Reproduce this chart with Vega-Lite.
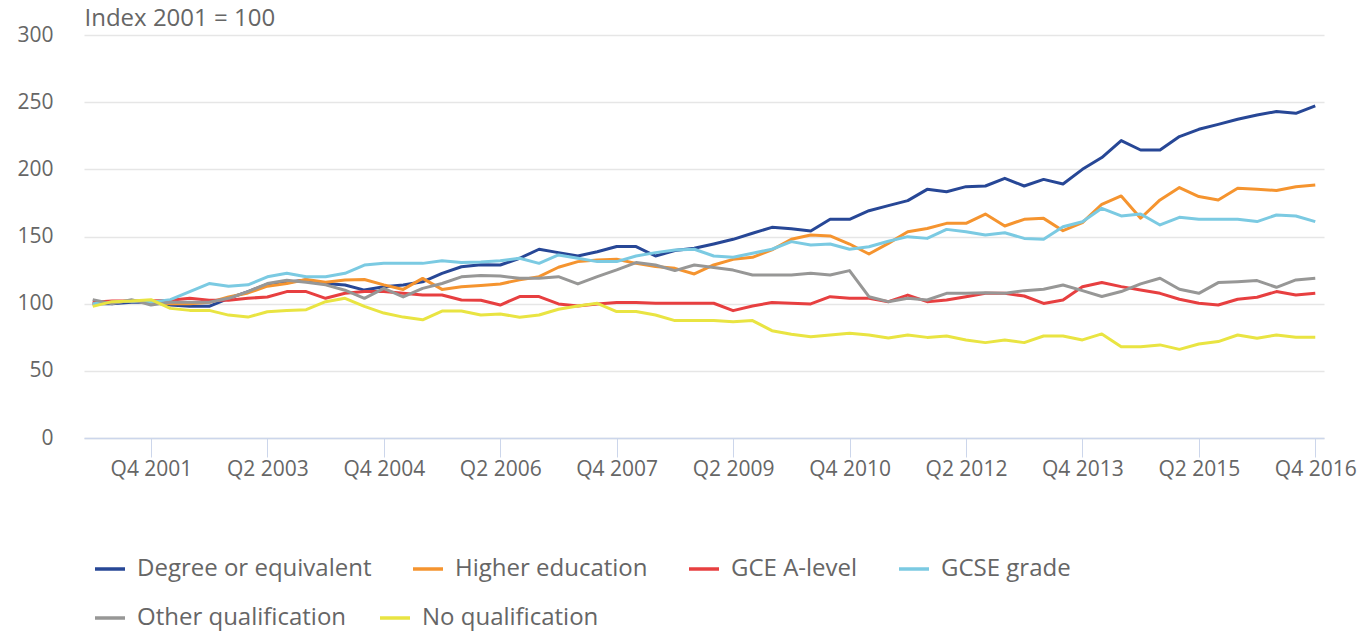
{
  "$schema": "https://vega.github.io/schema/vega-lite/v6.json",
  "width": 1240,
  "height": 403,
  "autosize": {"type": "none"},
  "padding": {"left": 84, "top": 35, "right": 40, "bottom": 193},
  "background": "white",
  "config": {"font": "Open Sans", "view": {"stroke": null}},
  "data": {"values": [
    {"q":"Q1 2001","Degree or equivalent":100,"Higher education":100,"GCE A-level":101,"GCSE grade":100,"Other qualification":103,"No qualification":98},
    {"q":"Q2 2001","Degree or equivalent":100,"Higher education":101,"GCE A-level":102,"GCSE grade":101,"Other qualification":100,"No qualification":101.5},
    {"q":"Q3 2001","Degree or equivalent":101,"Higher education":102,"GCE A-level":102,"GCSE grade":102,"Other qualification":103,"No qualification":102},
    {"q":"Q4 2001","Degree or equivalent":101,"Higher education":101,"GCE A-level":102,"GCSE grade":101,"Other qualification":99,"No qualification":103},
    {"q":"Q1 2002","Degree or equivalent":99,"Higher education":100,"GCE A-level":102.5,"GCSE grade":103,"Other qualification":101,"No qualification":96.5},
    {"q":"Q2 2002","Degree or equivalent":98,"Higher education":100,"GCE A-level":104,"GCSE grade":109,"Other qualification":101,"No qualification":95},
    {"q":"Q3 2002","Degree or equivalent":98,"Higher education":101,"GCE A-level":102.5,"GCSE grade":115,"Other qualification":101,"No qualification":95},
    {"q":"Q4 2002","Degree or equivalent":104,"Higher education":105,"GCE A-level":102.5,"GCSE grade":113,"Other qualification":104,"No qualification":91.5},
    {"q":"Q1 2003","Degree or equivalent":109,"Higher education":108,"GCE A-level":104,"GCSE grade":114,"Other qualification":109,"No qualification":90},
    {"q":"Q2 2003","Degree or equivalent":114.5,"Higher education":113,"GCE A-level":105,"GCSE grade":120,"Other qualification":115,"No qualification":94},
    {"q":"Q3 2003","Degree or equivalent":116,"Higher education":115,"GCE A-level":109,"GCSE grade":122.6,"Other qualification":117.5,"No qualification":95},
    {"q":"Q4 2003","Degree or equivalent":117.6,"Higher education":118,"GCE A-level":109,"GCSE grade":120,"Other qualification":116,"No qualification":95.5},
    {"q":"Q1 2004","Degree or equivalent":115,"Higher education":116,"GCE A-level":104,"GCSE grade":120,"Other qualification":114,"No qualification":101.5},
    {"q":"Q2 2004","Degree or equivalent":113.9,"Higher education":117.6,"GCE A-level":107.7,"GCSE grade":122.6,"Other qualification":110,"No qualification":104},
    {"q":"Q3 2004","Degree or equivalent":110.1,"Higher education":118,"GCE A-level":109,"GCSE grade":128.7,"Other qualification":104,"No qualification":98},
    {"q":"Q4 2004","Degree or equivalent":112.6,"Higher education":114,"GCE A-level":109,"GCSE grade":130,"Other qualification":111.4,"No qualification":93},
    {"q":"Q1 2005","Degree or equivalent":113.9,"Higher education":110.6,"GCE A-level":107.7,"GCSE grade":130,"Other qualification":105,"No qualification":90},
    {"q":"Q2 2005","Degree or equivalent":116.3,"Higher education":118.8,"GCE A-level":106.5,"GCSE grade":130,"Other qualification":111.4,"No qualification":88},
    {"q":"Q3 2005","Degree or equivalent":122.5,"Higher education":110.6,"GCE A-level":106.5,"GCSE grade":132,"Other qualification":115,"No qualification":94.5},
    {"q":"Q4 2005","Degree or equivalent":127.5,"Higher education":112.6,"GCE A-level":102.7,"GCSE grade":130.7,"Other qualification":120,"No qualification":94.5},
    {"q":"Q1 2006","Degree or equivalent":129,"Higher education":113.5,"GCE A-level":102.5,"GCSE grade":131,"Other qualification":121,"No qualification":91.5},
    {"q":"Q2 2006","Degree or equivalent":128.8,"Higher education":114.7,"GCE A-level":99,"GCSE grade":132,"Other qualification":120.6,"No qualification":92.3},
    {"q":"Q3 2006","Degree or equivalent":133.8,"Higher education":117.7,"GCE A-level":105.3,"GCSE grade":133.8,"Other qualification":118.9,"No qualification":89.9},
    {"q":"Q4 2006","Degree or equivalent":140.5,"Higher education":120.1,"GCE A-level":105.3,"GCSE grade":130,"Other qualification":118.9,"No qualification":91.6},
    {"q":"Q1 2007","Degree or equivalent":138,"Higher education":127.1,"GCE A-level":99.8,"GCSE grade":136.3,"Other qualification":120.1,"No qualification":95.8},
    {"q":"Q2 2007","Degree or equivalent":135.5,"Higher education":131.3,"GCE A-level":98.3,"GCSE grade":133.8,"Other qualification":114.7,"No qualification":98.3},
    {"q":"Q3 2007","Degree or equivalent":138.7,"Higher education":132.5,"GCE A-level":99.8,"GCSE grade":131.3,"Other qualification":120.1,"No qualification":100.3},
    {"q":"Q4 2007","Degree or equivalent":142.5,"Higher education":133,"GCE A-level":100.8,"GCSE grade":131.3,"Other qualification":125.1,"No qualification":94.1},
    {"q":"Q1 2008","Degree or equivalent":142.5,"Higher education":130,"GCE A-level":100.8,"GCSE grade":135.5,"Other qualification":130.6,"No qualification":94.1},
    {"q":"Q2 2008","Degree or equivalent":135.5,"Higher education":127.6,"GCE A-level":100.3,"GCSE grade":138,"Other qualification":128.8,"No qualification":91.6},
    {"q":"Q3 2008","Degree or equivalent":139.5,"Higher education":126.3,"GCE A-level":100.3,"GCSE grade":140,"Other qualification":124.6,"No qualification":87.4},
    {"q":"Q4 2008","Degree or equivalent":141.2,"Higher education":122.1,"GCE A-level":100.3,"GCSE grade":140.5,"Other qualification":128.8,"No qualification":87.4},
    {"q":"Q1 2009","Degree or equivalent":144.4,"Higher education":128.8,"GCE A-level":100.3,"GCSE grade":135.5,"Other qualification":127,"No qualification":87.4},
    {"q":"Q2 2009","Degree or equivalent":147.9,"Higher education":133,"GCE A-level":94.8,"GCSE grade":134.5,"Other qualification":125,"No qualification":86.6},
    {"q":"Q3 2009","Degree or equivalent":152.4,"Higher education":134.5,"GCE A-level":98.3,"GCSE grade":137.5,"Other qualification":121.3,"No qualification":87.4},
    {"q":"Q4 2009","Degree or equivalent":156.8,"Higher education":140,"GCE A-level":100.8,"GCSE grade":140.5,"Other qualification":121.3,"No qualification":79.9},
    {"q":"Q1 2010","Degree or equivalent":155.8,"Higher education":147.9,"GCE A-level":100.3,"GCSE grade":146.2,"Other qualification":121.3,"No qualification":77.2},
    {"q":"Q2 2010","Degree or equivalent":154.1,"Higher education":151.1,"GCE A-level":99.8,"GCSE grade":143.7,"Other qualification":122.6,"No qualification":75.4},
    {"q":"Q3 2010","Degree or equivalent":162.8,"Higher education":150.4,"GCE A-level":105.2,"GCSE grade":144.4,"Other qualification":121.3,"No qualification":76.7},
    {"q":"Q4 2010","Degree or equivalent":162.8,"Higher education":144.4,"GCE A-level":104,"GCSE grade":140.5,"Other qualification":124.6,"No qualification":77.9},
    {"q":"Q1 2011","Degree or equivalent":169.2,"Higher education":137,"GCE A-level":104,"GCSE grade":142.4,"Other qualification":105.2,"No qualification":76.7},
    {"q":"Q2 2011","Degree or equivalent":173,"Higher education":144.9,"GCE A-level":101.5,"GCSE grade":146.5,"Other qualification":101.5,"No qualification":74.5},
    {"q":"Q3 2011","Degree or equivalent":176.7,"Higher education":153.6,"GCE A-level":106.4,"GCSE grade":149.9,"Other qualification":104,"No qualification":76.7},
    {"q":"Q4 2011","Degree or equivalent":185.1,"Higher education":156,"GCE A-level":101.5,"GCSE grade":148.6,"Other qualification":102.7,"No qualification":74.9},
    {"q":"Q1 2012","Degree or equivalent":183.3,"Higher education":159.8,"GCE A-level":102.7,"GCSE grade":155.3,"Other qualification":107.7,"No qualification":75.9},
    {"q":"Q2 2012","Degree or equivalent":187.1,"Higher education":159.8,"GCE A-level":105.2,"GCSE grade":153.6,"Other qualification":107.7,"No qualification":73},
    {"q":"Q3 2012","Degree or equivalent":187.6,"Higher education":166.7,"GCE A-level":107.7,"GCSE grade":151.1,"Other qualification":108.2,"No qualification":71},
    {"q":"Q4 2012","Degree or equivalent":193.3,"Higher education":157.8,"GCE A-level":107.7,"GCSE grade":152.8,"Other qualification":107.7,"No qualification":73},
    {"q":"Q1 2013","Degree or equivalent":187.6,"Higher education":162.8,"GCE A-level":105.7,"GCSE grade":148.6,"Other qualification":109.7,"No qualification":71},
    {"q":"Q2 2013","Degree or equivalent":192.5,"Higher education":163.5,"GCE A-level":100.2,"GCSE grade":147.9,"Other qualification":110.7,"No qualification":75.9},
    {"q":"Q3 2013","Degree or equivalent":189.1,"Higher education":154.3,"GCE A-level":102.7,"GCSE grade":157.3,"Other qualification":113.9,"No qualification":75.9},
    {"q":"Q4 2013","Degree or equivalent":200,"Higher education":160.3,"GCE A-level":112.6,"GCSE grade":161,"Other qualification":109.7,"No qualification":73},
    {"q":"Q1 2014","Degree or equivalent":208.8,"Higher education":174,"GCE A-level":115.7,"GCSE grade":171,"Other qualification":105.3,"No qualification":77.5},
    {"q":"Q2 2014","Degree or equivalent":221.4,"Higher education":180.2,"GCE A-level":112.7,"GCSE grade":165.3,"Other qualification":109,"No qualification":68},
    {"q":"Q3 2014","Degree or equivalent":214.4,"Higher education":163.6,"GCE A-level":110.2,"GCSE grade":166.8,"Other qualification":114.7,"No qualification":68},
    {"q":"Q4 2014","Degree or equivalent":214.4,"Higher education":177.2,"GCE A-level":107.7,"GCSE grade":158.6,"Other qualification":118.9,"No qualification":69.3},
    {"q":"Q1 2015","Degree or equivalent":224.4,"Higher education":186.4,"GCE A-level":103.3,"GCSE grade":164.3,"Other qualification":110.7,"No qualification":66},
    {"q":"Q2 2015","Degree or equivalent":229.8,"Higher education":179.7,"GCE A-level":100.3,"GCSE grade":162.8,"Other qualification":107.7,"No qualification":70},
    {"q":"Q3 2015","Degree or equivalent":233.5,"Higher education":177.2,"GCE A-level":99,"GCSE grade":162.8,"Other qualification":115.7,"No qualification":71.8},
    {"q":"Q4 2015","Degree or equivalent":237.3,"Higher education":185.9,"GCE A-level":103.3,"GCSE grade":162.8,"Other qualification":116.4,"No qualification":76.7},
    {"q":"Q1 2016","Degree or equivalent":240.5,"Higher education":185.2,"GCE A-level":104.8,"GCSE grade":161.1,"Other qualification":117.2,"No qualification":74.2},
    {"q":"Q2 2016","Degree or equivalent":243,"Higher education":184.2,"GCE A-level":109,"GCSE grade":166,"Other qualification":112.2,"No qualification":76.7},
    {"q":"Q3 2016","Degree or equivalent":241.7,"Higher education":187.1,"GCE A-level":106.5,"GCSE grade":165.3,"Other qualification":117.7,"No qualification":75},
    {"q":"Q4 2016","Degree or equivalent":247.2,"Higher education":188.4,"GCE A-level":107.7,"GCSE grade":161.1,"Other qualification":118.9,"No qualification":75}
  ]},
  "transform": [
    {"fold": ["Degree or equivalent","Higher education","GCE A-level","GCSE grade","Other qualification","No qualification"], "as": ["series","value"]}
  ],
  "encoding": {
    "x": {
      "field": "q", "type": "ordinal", "sort": null,
      "scale": {"type": "point", "padding": 0.45},
      "axis": {
        "title": null,
        "values": ["Q4 2001","Q2 2003","Q4 2004","Q2 2006","Q4 2007","Q2 2009","Q4 2010","Q2 2012","Q4 2013","Q2 2015","Q4 2016"],
        "labelAngle": 0, "labelFontSize": 21, "labelColor": "#666666",
        "domainColor": "#ccd6eb", "domainWidth": 1.5,
        "tickColor": "#ccd6eb", "tickSize": 19, "tickWidth": 1,
        "labelPadding": 1, "grid": false
      }
    },
    "y": {
      "field": "value", "type": "quantitative",
      "scale": {"domain": [0, 300], "nice": false},
      "axis": {
        "values": [0, 50, 100, 150, 200, 250, 300],
        "title": "Index 2001 = 100", "titleAngle": 0, "titleX": 0, "titleY": -17,
        "titleAlign": "left", "titleBaseline": "middle", "titleFontSize": 24,
        "titleFontWeight": "normal", "titleColor": "#666666",
        "labelFontSize": 21, "labelColor": "#666666",
        "domain": false, "ticks": false, "tickSize": 0, "labelPadding": 31,
        "gridColor": "#e6e6e6", "gridWidth": 1.5
      }
    }
  },
  "layer": [
    {
      "transform": [{"filter": {"field": "series", "oneOf": ["Degree or equivalent","Higher education","GCE A-level","GCSE grade"]}}],
      "mark": {"type": "line", "strokeWidth": 3, "strokeJoin": "round"},
      "encoding": {
        "color": {
          "field": "series", "type": "nominal",
          "scale": {
            "domain": ["Degree or equivalent","Higher education","GCE A-level","GCSE grade"],
            "range": ["#274796","#F5942F","#E73F40","#7BCAE2"]
          },
          "legend": {
            "title": null, "orient": "none", "legendX": 9, "legendY": 517,
            "direction": "horizontal", "columns": 4,
            "symbolType": "stroke", "symbolSize": 900, "symbolStrokeWidth": 3.5,
            "labelFontSize": 24, "labelColor": "#666666", "labelOffset": 10,
            "columnPadding": 34, "labelLimit": 400
          }
        }
      }
    },
    {
      "transform": [{"filter": {"field": "series", "oneOf": ["Other qualification","No qualification"]}}],
      "mark": {"type": "line", "strokeWidth": 3, "strokeJoin": "round"},
      "encoding": {
        "color": {
          "field": "series", "type": "nominal",
          "scale": {
            "domain": ["Other qualification","No qualification"],
            "range": ["#979796","#E9E442"]
          },
          "legend": {
            "title": null, "orient": "none", "legendX": 9, "legendY": 566,
            "direction": "horizontal", "columns": 2,
            "symbolType": "stroke", "symbolSize": 900, "symbolStrokeWidth": 3.5,
            "labelFontSize": 24, "labelColor": "#666666", "labelOffset": 10,
            "columnPadding": 26, "labelLimit": 400
          }
        }
      }
    }
  ],
  "resolve": {"scale": {"color": "independent"}, "legend": {"color": "independent"}}
}
